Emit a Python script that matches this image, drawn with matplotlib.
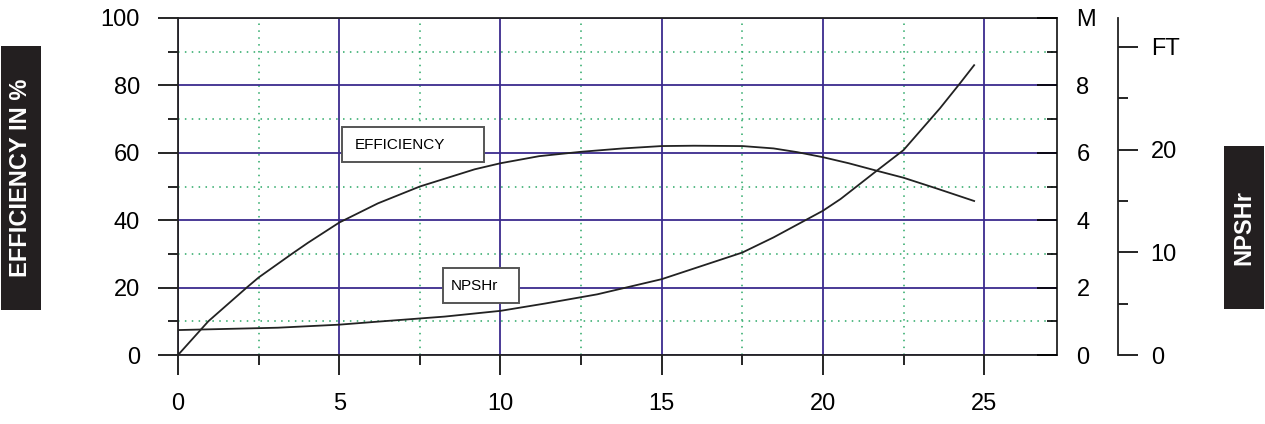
import matplotlib
matplotlib.use('Agg')
import matplotlib.pyplot as plt
from matplotlib.patches import Rectangle

plt.rcParams['font.family'] = ['Liberation Sans', 'DejaVu Sans']

# flow values and curves
eff_flow = [0, 0.94, 2.13, 2.5, 3.53, 4.03, 5.0, 6.2, 7.5, 9.2, 10.0, 11.2, 12.5, 13.8,
            15.0, 16.0, 17.5, 18.47, 19.2, 20.0, 20.8, 21.7, 22.5, 23.5, 24.69]
efficiency = [0, 10.0, 20.0, 23.0, 30.0, 33.3, 39.3, 45.0, 50.0, 55.1, 56.9, 59.0, 60.3, 61.3,
              62.0, 62.1, 62.0, 61.3, 60.2, 58.7, 56.9, 54.6, 52.6, 49.5, 45.7]

npsh_flow = [0, 3.1, 5.0, 6.2, 8.27, 10.0, 11.4, 13.0, 15.0, 17.5, 18.47, 20.0,
             20.55, 21.7, 22.5, 23.63, 24.25, 24.69]
npsh_m = [0.74, 0.81, 0.90, 0.99, 1.14, 1.31, 1.53, 1.80, 2.25, 3.04, 3.49, 4.28,
          4.63, 5.49, 6.08, 7.32, 8.06, 8.6]

x_ticks = [0, 5, 10, 15, 20, 25]
eff_ticks = [0, 20, 40, 60, 80, 100]
m_ticks = [0, 2, 4, 6, 8, 10]
m_labels = ['0', '2', '4', '6', '8', 'M']
ft_ticks = [0, 10, 20, 30]
ft_labels = ['0', '10', '20', 'FT']

W, H = 1265, 424
fig = plt.figure(figsize=(W / 100, H / 100), dpi=100)
ax = fig.add_axes([178 / W, (H - 355) / H, 879 / W, 337 / H])

major_c = '#3b2b8e'
minor_c = '#2aa866'
fs = 17

ax.set_xlim(0, 27.26)
ax.set_ylim(0, 100)
ax.set_xticks(x_ticks)
ax.set_xticks([2.5, 7.5, 12.5, 17.5, 22.5], minor=True)
ax.set_yticks(eff_ticks)
ax.set_yticks([10, 30, 50, 70, 90], minor=True)
ax.grid(which='major', color=major_c, lw=1.3)
ax.grid(which='minor', color=minor_c, lw=1.1, ls=(0, (1, 3.5)))
ax.set_axisbelow(True)
ax.tick_params(which='major', direction='out', length=14.5, width=1.2, pad=13,
               labelsize=fs, top=False, right=False)
ax.tick_params(which='minor', direction='out', length=7.5, width=1.2,
               top=False, right=False)
for s in ax.spines.values():
    s.set_linewidth(1.3)
    s.set_color('#222222')

ax.plot(eff_flow, efficiency, color='#222222', lw=1.3, zorder=3)

# meters scale on the main right spine
axm = ax.twinx()
axm.set_ylim(0, 10)
axm.set_yticks(m_ticks)
axm.set_yticklabels(m_labels)
axm.set_yticks([1, 3, 5, 7, 9], minor=True)
axm.tick_params(which='major', direction='in', length=14.5, width=1.2, pad=14, labelsize=fs)
axm.tick_params(which='minor', direction='in', length=7.5, width=1.2)
for s in axm.spines.values():
    s.set_visible(False)
axm.plot(npsh_flow, npsh_m, color='#222222', lw=1.3, zorder=3)

# feet scale on a separate spine
axf = ax.twinx()
axf.set_ylim(0, 10 / 0.3048)
axf.spines['right'].set_position(('axes', (1118 - 178) / 879))
for k in ['top', 'bottom', 'left']:
    axf.spines[k].set_visible(False)
axf.spines['right'].set_linewidth(1.3)
axf.spines['right'].set_color('#222222')
axf.set_yticks(ft_ticks)
axf.set_yticklabels(ft_labels)
axf.set_yticks([5, 15, 25], minor=True)
axf.tick_params(which='major', direction='out', length=14.5, width=1.2, pad=9, labelsize=fs)
axf.tick_params(which='minor', direction='out', length=7.5, width=1.2)

# curve label boxes
ax.add_patch(Rectangle((5.10, 57.2), 4.38, 10.5, facecolor='white', edgecolor='#555555',
                       lw=1.4, zorder=4))
ax.text(5.48, 62.3, 'EFFICIENCY', fontsize=11, va='center', ha='left', zorder=5)
ax.add_patch(Rectangle((8.23, 15.4), 2.34, 10.5, facecolor='white', edgecolor='#555555',
                       lw=1.4, zorder=4))
ax.text(8.47, 20.6, 'NPSHr', fontsize=11, va='center', ha='left', zorder=5)

# side labels on black boxes
fig.patches.append(Rectangle((1 / W, (H - 310) / H), 40 / W, 264 / H, transform=fig.transFigure,
                             facecolor='#231f20', edgecolor='none'))
fig.text(21 / W, 1 - 178 / H, 'EFFICIENCY IN %', rotation=90, color='white', fontsize=fs,
         fontweight='bold', ha='center', va='center')
fig.patches.append(Rectangle((1224 / W, (H - 309) / H), 40 / W, 163 / H, transform=fig.transFigure,
                             facecolor='#231f20', edgecolor='none'))
fig.text(1244 / W, 1 - 227.5 / H, 'NPSHr', rotation=90, color='white', fontsize=fs,
         fontweight='bold', ha='center', va='center')

fig.savefig('out.png', dpi=100)
